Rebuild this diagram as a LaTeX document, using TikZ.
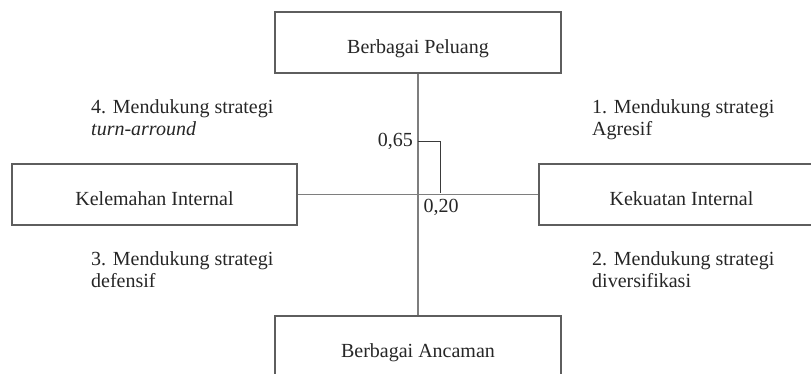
\documentclass[tikz,border=0pt]{standalone}
\usepackage{fontspec}
\setmainfont{Liberation Serif}
\definecolor{boxc}{HTML}{5E5E5E}
\definecolor{axisc}{HTML}{7E7E7E}
\definecolor{markc}{HTML}{3A3A3A}
\definecolor{txtc}{HTML}{262626}
\begin{document}
\begin{tikzpicture}[x=1pt,y=-1pt,
  every node/.style={text=txtc, font=\fontsize{20}{22}\selectfont},
  boxnode/.style={draw=boxc, line width=1.4pt, fill=white, minimum width=286, minimum height=61,
    inner sep=0pt, text height=22pt, text depth=0pt},
  axis/.style={draw=axisc, line width=1.6pt},
  marker/.style={draw=markc, line width=1pt},
  quad/.style={anchor=base west, align=left, inner sep=0pt}]
\useasboundingbox (0,0) rectangle (811,374);
\clip (0,0) rectangle (811,374);
\node[boxnode] (top) at (418,42.5) {Berbagai Peluang};
\node[boxnode] (bot) at (418,346.5) {Berbagai Ancaman};
\node[boxnode, minimum width=285] (left) at (154.5,194.5) {Kelemahan Internal};
\node[boxnode, minimum width=285] (right) at (681.5,194.5) {Kekuatan Internal};
\draw[axis] (top.south) -- (bot.north);
\draw[axis] (left.east) -- (right.west);
\coordinate (p65) at (418,142);
\coordinate (p20) at (440,193.5);
\draw[marker] (p65) -| (p20);
\node[anchor=east, inner sep=0pt] (l65) at (413,141) {0,65};
\node[anchor=base, inner sep=0pt] (l20) at (441,213) {0,20};
\node[quad] (q4) at (91,136) {4. Mendukung strategi\\\textit{turn-arround}};
\node[quad] (q1) at (592,135.5) {1. Mendukung strategi\\Agresif};
\node[quad] (q3) at (91,287) {3. Mendukung strategi\\defensif};
\node[quad] (q2) at (592,287) {2. Mendukung strategi\\diversifikasi};
\end{tikzpicture}
\end{document}
